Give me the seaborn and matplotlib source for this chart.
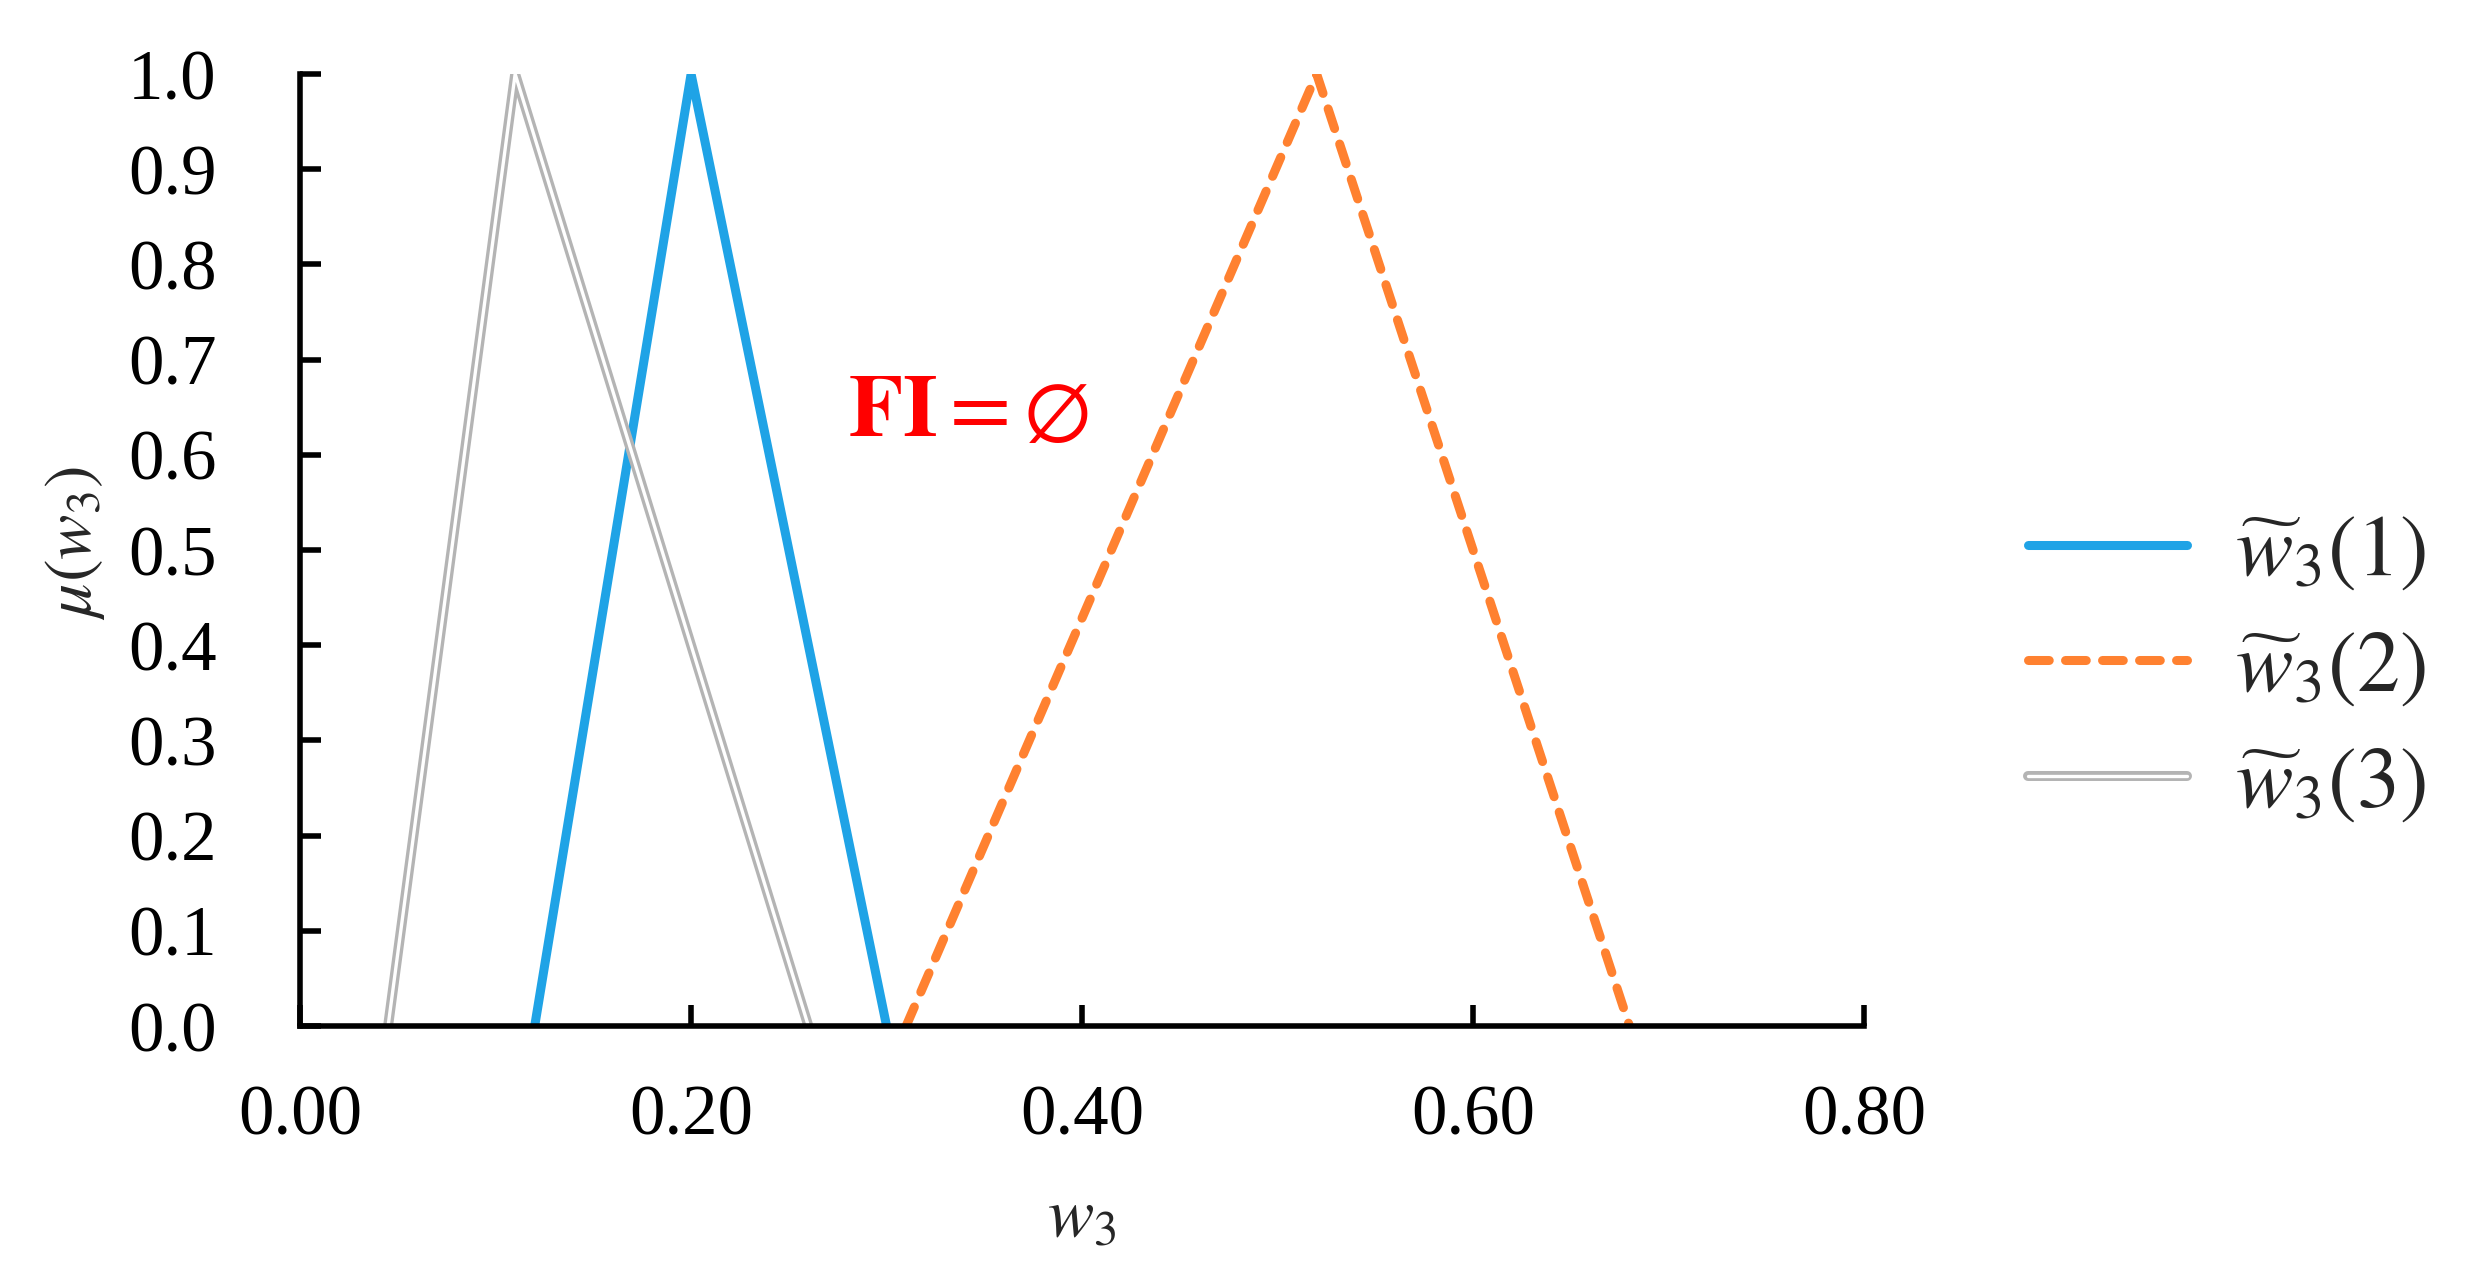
import numpy as np
import pandas as pd
import matplotlib
matplotlib.use("Agg")
import matplotlib.pyplot as plt
import matplotlib.patheffects as pe
import seaborn as sns

# triangular fuzzy numbers (l, m, u)
membership = [0.0, 1.0, 0.0]
w3_1 = [0.12, 0.20, 0.30]
w3_2 = [0.31, 0.52, 0.68]
w3_3 = [0.045, 0.11, 0.26]
labels = [r"$\widetilde{w}_3(1)$", r"$\widetilde{w}_3(2)$", r"$\widetilde{w}_3(3)$"]

x_ticks = [0.0, 0.2, 0.4, 0.6, 0.8]
y_ticks = [0.0, 0.1, 0.2, 0.3, 0.4, 0.5, 0.6, 0.7, 0.8, 0.9, 1.0]

sns.set_theme(style="ticks")
plt.rcParams["font.family"] = ["Liberation Serif", "DejaVu Serif"]
plt.rcParams["mathtext.fontset"] = "stix"

fig = plt.figure(figsize=(24.66, 12.83), dpi=100)
ax = fig.add_axes([0.1217, 0.2003, 0.6342, 0.7420])

blue = "#1FA3E6"
orange = "#FF8130"
grey = "#B4B4B4"

sns.lineplot(x=w3_1, y=membership, ax=ax, sort=False, estimator=None,
             color=blue, linewidth=6.5, label=labels[0])
sns.lineplot(x=w3_2, y=membership, ax=ax, sort=False, estimator=None,
             color=orange, linewidth=6.5, label=labels[1])
sns.lineplot(x=w3_3, y=membership, ax=ax, sort=False, estimator=None,
             color="white", linewidth=2.4, label=labels[2])

lines = ax.get_lines()
lines[1].set_dashes([2.3, 1.8])
lines[1].set_dash_capstyle("round")
lines[2].set_path_effects([pe.Stroke(linewidth=7.2, foreground=grey), pe.Normal()])

ax.set_xlim(0, 0.8)
ax.set_ylim(0, 1.0)
ax.set_xticks(x_ticks)
ax.set_xticklabels([f"{v:.2f}" for v in x_ticks])
ax.set_yticks(y_ticks)
ax.set_yticklabels([f"{v:.1f}" for v in y_ticks])

sns.despine(ax=ax)
for side in ["left", "bottom"]:
    ax.spines[side].set_linewidth(4)
    ax.spines[side].set_color("black")
ax.tick_params(axis="both", direction="in", length=15, width=4, color="black",
               labelsize=51, labelcolor="black")
ax.tick_params(axis="x", pad=42)
ax.tick_params(axis="y", pad=60)

ax.set_xlabel(r"$w_3$", fontsize=50, va="center")
ax.xaxis.set_label_coords(0.5, -0.203)
ax.set_ylabel(r"$\mu(w_3)$", fontsize=49, va="center")
ax.yaxis.set_label_coords(-0.144, 0.507)

ax.text(0.342, 0.642, r"$\mathbf{FI} = \emptyset$", color="red", fontsize=64,
        ha="center", va="center")

handles, _ = ax.get_legend_handles_labels()
ax.get_legend().remove()
fig.legend(handles, labels, loc="center left", bbox_to_anchor=(0.8224, 0.478),
           bbox_transform=fig.transFigure, frameon=False, fontsize=62,
           handlelength=1.85, handletextpad=0.55, labelspacing=0.42,
           borderpad=0, borderaxespad=0)

fig.savefig("out.png", dpi=100, facecolor="white")
